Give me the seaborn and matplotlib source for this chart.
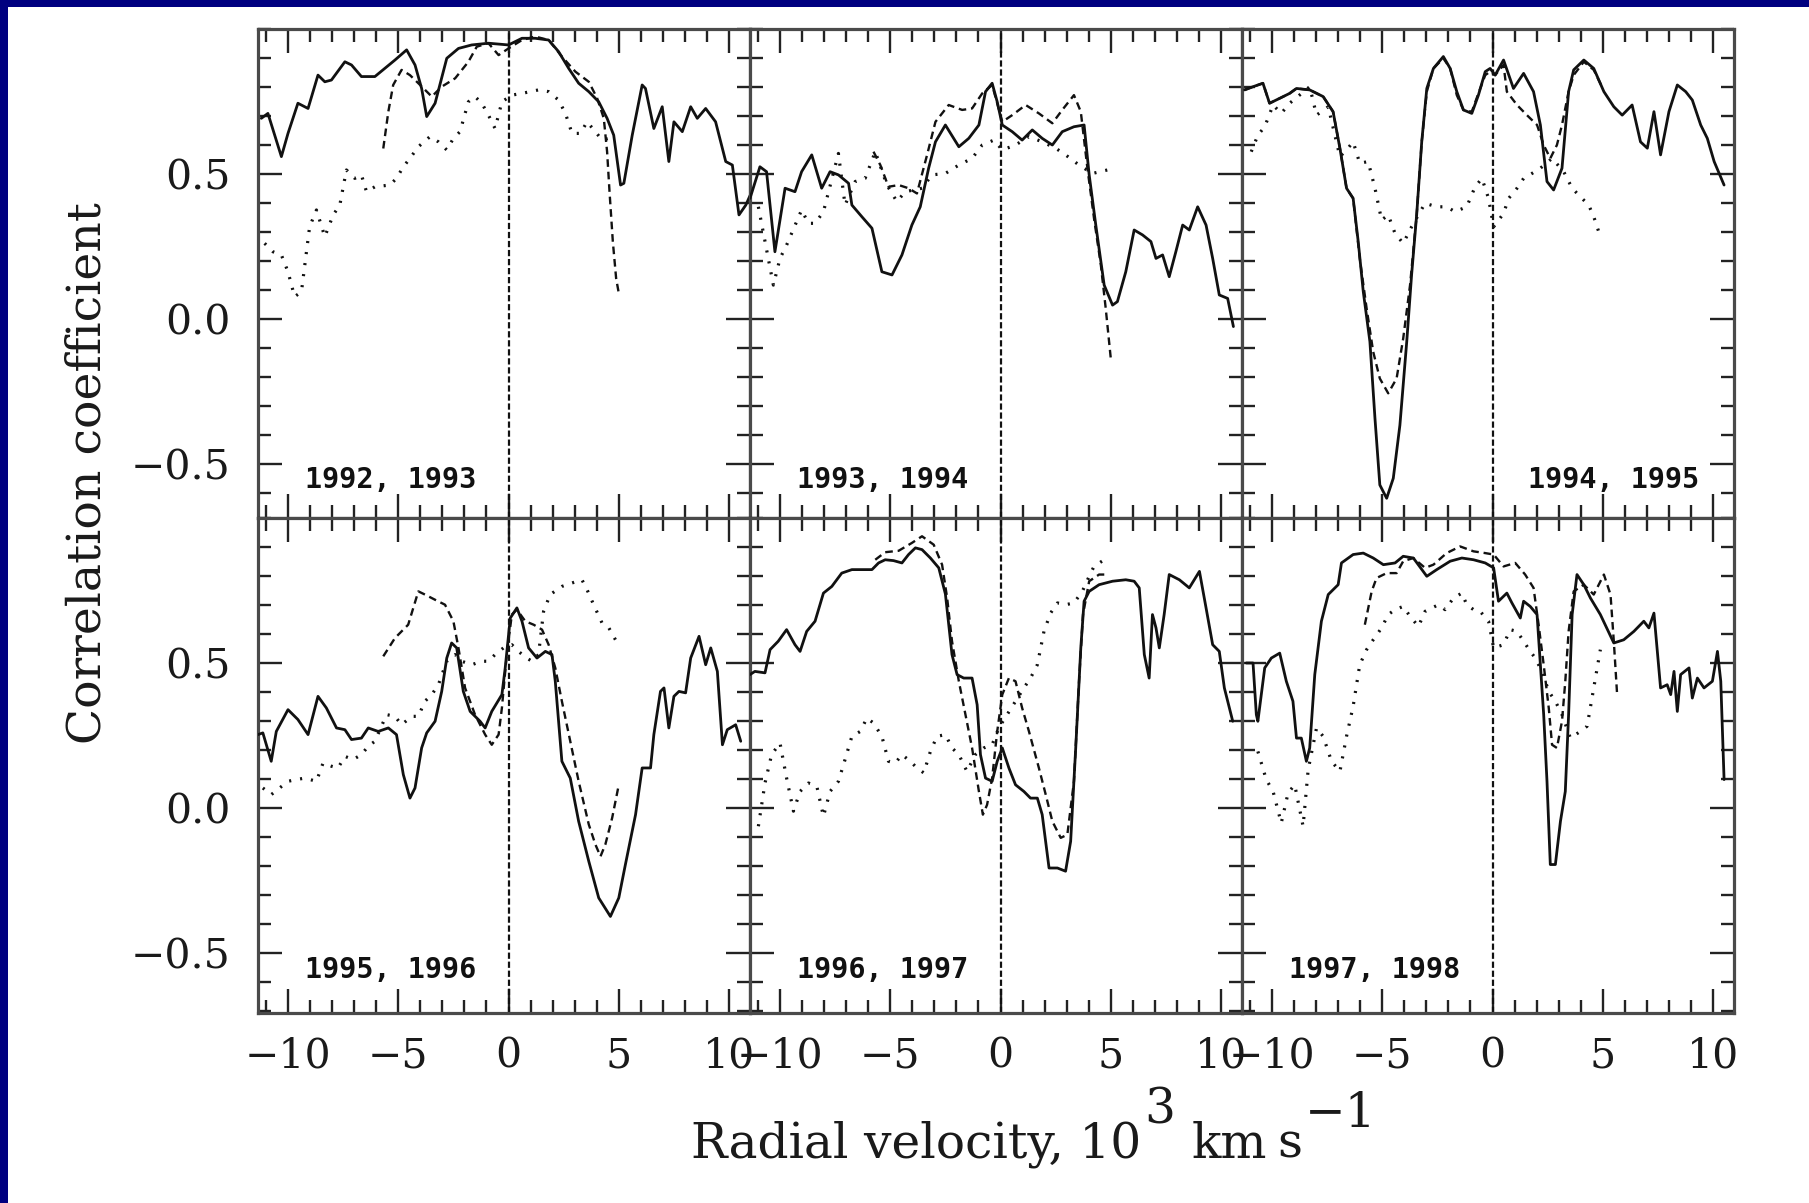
import matplotlib
matplotlib.use("Agg")
import matplotlib.pyplot as plt
import seaborn as sns
from matplotlib.ticker import FixedLocator, MultipleLocator, FuncFormatter
from matplotlib.patches import Rectangle

# ---------------- data ----------------
panel_labels = ["1992, 1993", "1993, 1994", "1994, 1995",
                "1995, 1996", "1996, 1997", "1997, 1998"]
x_ticks = [-10, -5, 0, 5, 10]
y_ticks = [-0.5, 0.0, 0.5]
x_label_parts = ["Radial velocity, 10", "3", "km", "s", "\u22121"]
y_label = "Correlation coefficient"

# panel 1 : 1992, 1993
p1_solid_x = [-11.21, -10.91, -10.30, -10.0, -9.55, -9.09, -8.64, -8.33, -8.03, -7.42, -7.12, -6.67, -6.06, -5.15, -4.62, -4.24, -3.94, -3.71, -3.33, -2.80, -2.27, -1.67, -0.91, 0.0, 0.61, 1.21, 1.82, 2.27, 2.73, 3.18, 3.64, 4.09, 4.47, 4.77, 5.08, 5.23, 5.61, 6.06, 6.21, 6.59, 6.97, 7.27, 7.50, 7.88, 8.26, 8.56, 8.94, 9.39, 9.85, 10.15, 10.45, 10.76, 11.10]
p1_solid_y = [0.692, 0.709, 0.560, 0.640, 0.744, 0.726, 0.841, 0.818, 0.824, 0.887, 0.876, 0.836, 0.836, 0.893, 0.928, 0.876, 0.795, 0.698, 0.744, 0.899, 0.933, 0.945, 0.951, 0.945, 0.968, 0.968, 0.962, 0.922, 0.864, 0.813, 0.784, 0.749, 0.692, 0.634, 0.462, 0.468, 0.634, 0.807, 0.795, 0.657, 0.732, 0.543, 0.680, 0.646, 0.732, 0.692, 0.726, 0.680, 0.543, 0.531, 0.359, 0.393, 0.451]
p1_dash_x = [-5.68, -5.45, -5.23, -4.85, -4.47, -4.09, -3.48, -3.03, -2.42, -1.82, -1.44, -0.91, -0.45, 0.0, 0.61, 1.21, 1.82, 2.42, 3.03, 3.64, 4.02, 4.32, 4.47, 4.58, 4.73, 4.88, 5.0]
p1_dash_y = [0.588, 0.715, 0.807, 0.859, 0.841, 0.813, 0.767, 0.801, 0.830, 0.887, 0.939, 0.951, 0.910, 0.933, 0.962, 0.974, 0.962, 0.905, 0.853, 0.818, 0.761, 0.692, 0.577, 0.439, 0.267, 0.140, 0.089]
p1_dot_x = [-11.06, -10.68, -10.30, -10.0, -9.70, -9.39, -9.02, -8.71, -8.33, -7.95, -7.65, -7.35, -6.97, -6.67, -6.44, -6.06, -5.38, -5.08, -4.77, -4.47, -4.09, -3.56, -3.18, -2.80, -2.50, -2.20, -1.82, -1.52, -1.21, -0.91, -0.61, -0.30, 0.15, 0.61, 1.36, 1.82, 2.27, 2.58, 2.88, 3.26, 3.56, 3.94, 4.24, 4.55]
p1_dot_y = [0.261, 0.232, 0.221, 0.163, 0.077, 0.094, 0.318, 0.376, 0.284, 0.359, 0.393, 0.514, 0.485, 0.497, 0.439, 0.456, 0.462, 0.485, 0.525, 0.554, 0.594, 0.629, 0.611, 0.583, 0.623, 0.646, 0.749, 0.767, 0.744, 0.703, 0.657, 0.749, 0.772, 0.778, 0.790, 0.784, 0.755, 0.709, 0.640, 0.640, 0.680, 0.646, 0.617, 0.623]

# panel 2 : 1993, 1994
p2_solid_x = [-11.36, -10.91, -10.61, -10.23, -9.77, -9.32, -9.02, -8.56, -8.11, -7.73, -7.35, -6.89, -6.74, -6.29, -5.83, -5.38, -4.92, -4.47, -4.02, -3.64, -3.26, -2.95, -2.50, -1.89, -1.44, -0.98, -0.68, -0.38, -0.15, 0.08, 0.53, 0.98, 1.44, 1.89, 2.35, 2.80, 3.33, 3.79, 4.02, 4.32, 4.70, 5.08, 5.30, 5.68, 6.06, 6.44, 6.82, 7.05, 7.35, 7.65, 7.95, 8.26, 8.56, 8.94, 9.32, 9.62, 9.92, 10.30, 10.56]
p2_solid_y = [0.416, 0.525, 0.508, 0.232, 0.451, 0.439, 0.508, 0.566, 0.451, 0.508, 0.497, 0.468, 0.393, 0.353, 0.313, 0.163, 0.152, 0.221, 0.324, 0.387, 0.520, 0.611, 0.669, 0.594, 0.623, 0.669, 0.784, 0.813, 0.749, 0.669, 0.646, 0.617, 0.652, 0.623, 0.600, 0.646, 0.663, 0.669, 0.497, 0.324, 0.117, 0.048, 0.060, 0.163, 0.307, 0.290, 0.267, 0.209, 0.221, 0.146, 0.232, 0.324, 0.307, 0.387, 0.324, 0.209, 0.083, 0.071, -0.026]
p2_dash_x = [-5.76, -5.45, -5.08, -4.62, -4.17, -3.79, -3.33, -2.95, -2.35, -1.74, -1.29, -0.83, -0.38, 0.08, 0.53, 1.14, 1.74, 2.35, 2.80, 3.33, 3.64, 3.94, 4.24, 4.55, 4.77, 5.0]
p2_dash_y = [0.577, 0.531, 0.456, 0.462, 0.451, 0.433, 0.566, 0.680, 0.738, 0.721, 0.726, 0.778, 0.807, 0.680, 0.703, 0.738, 0.709, 0.675, 0.721, 0.772, 0.715, 0.520, 0.347, 0.186, 0.037, -0.136]
p2_dot_x = [-10.98, -10.30, -10.0, -9.70, -9.02, -8.71, -8.41, -8.03, -7.35, -7.05, -6.59, -6.14, -5.68, -5.15, -4.70, -4.32, -3.56, -3.11, -2.50, -1.89, -1.29, -0.83, -0.30, 0.08, 0.68, 1.29, 1.89, 2.50, 2.95, 3.56, 4.17, 4.85]
p2_dot_y = [0.387, 0.117, 0.209, 0.255, 0.376, 0.330, 0.330, 0.370, 0.571, 0.393, 0.474, 0.485, 0.577, 0.462, 0.405, 0.439, 0.451, 0.497, 0.502, 0.531, 0.554, 0.600, 0.617, 0.583, 0.600, 0.629, 0.611, 0.589, 0.566, 0.531, 0.502, 0.514]

# panel 3 : 1994, 1995
p3_solid_x = [-11.24, -10.86, -10.41, -10.11, -9.65, -9.20, -8.89, -8.29, -7.68, -7.23, -6.92, -6.62, -6.32, -6.09, -5.86, -5.56, -5.33, -5.11, -4.80, -4.50, -4.20, -3.89, -3.67, -3.44, -3.21, -2.98, -2.68, -2.23, -1.92, -1.62, -1.32, -0.94, -0.64, -0.33, -0.11, 0.12, 0.50, 0.95, 1.41, 1.86, 2.17, 2.47, 2.77, 3.15, 3.45, 3.68, 4.14, 4.59, 5.05, 5.50, 5.88, 6.33, 6.71, 7.02, 7.32, 7.62, 8.00, 8.38, 8.76, 9.06, 9.44, 9.74, 10.05, 10.50]
p3_solid_y = [0.790, 0.801, 0.813, 0.744, 0.761, 0.778, 0.795, 0.790, 0.767, 0.715, 0.589, 0.451, 0.416, 0.267, 0.094, -0.078, -0.343, -0.572, -0.618, -0.549, -0.366, -0.078, 0.152, 0.359, 0.611, 0.795, 0.864, 0.905, 0.864, 0.784, 0.721, 0.709, 0.772, 0.853, 0.864, 0.841, 0.893, 0.795, 0.847, 0.784, 0.669, 0.474, 0.445, 0.520, 0.784, 0.859, 0.893, 0.864, 0.784, 0.732, 0.703, 0.738, 0.611, 0.589, 0.715, 0.566, 0.715, 0.807, 0.784, 0.755, 0.669, 0.623, 0.543, 0.462]
p3_dash_x = [-11.24, -10.86, -10.41, -10.11, -9.65, -9.20, -8.89, -8.29, -7.68, -7.23, -6.92, -6.62, -6.32, -6.02, -5.71, -5.41, -5.11, -4.73, -4.35, -4.05, -3.74, -3.44, -3.21, -2.98, -2.68, -2.23, -1.92, -1.62, -1.32, -0.94, -0.64, -0.33, -0.11, 0.12, 0.50, 0.65, 1.11, 1.56, 2.02, 2.32, 2.62, 2.92, 3.15, 3.45, 3.68, 4.14, 4.59, 5.0]
p3_dash_y = [0.790, 0.801, 0.813, 0.744, 0.761, 0.778, 0.795, 0.790, 0.767, 0.715, 0.589, 0.451, 0.416, 0.209, 0.037, -0.113, -0.205, -0.256, -0.205, -0.067, 0.117, 0.359, 0.611, 0.784, 0.864, 0.899, 0.864, 0.772, 0.721, 0.715, 0.778, 0.841, 0.853, 0.841, 0.876, 0.784, 0.738, 0.703, 0.669, 0.600, 0.554, 0.600, 0.669, 0.784, 0.841, 0.887, 0.859, 0.795]
p3_dot_x = [-10.94, -10.64, -10.33, -9.95, -9.58, -9.20, -8.29, -7.98, -7.45, -6.92, -6.62, -6.32, -6.02, -5.64, -5.33, -5.03, -4.73, -4.42, -4.05, -3.67, -3.06, -2.53, -2.08, -1.70, -1.17, -0.79, -0.48, -0.18, 0.05, 0.50, 0.73, 1.11, 1.41, 1.79, 2.17, 2.70, 3.23, 3.61, 3.98, 4.36, 4.59, 4.89]
p3_dot_y = [0.577, 0.634, 0.663, 0.738, 0.709, 0.744, 0.801, 0.703, 0.732, 0.560, 0.583, 0.611, 0.537, 0.543, 0.451, 0.341, 0.359, 0.295, 0.261, 0.318, 0.399, 0.387, 0.387, 0.370, 0.387, 0.456, 0.485, 0.416, 0.318, 0.364, 0.416, 0.451, 0.485, 0.502, 0.520, 0.554, 0.508, 0.451, 0.422, 0.393, 0.353, 0.284]

# panel 4 : 1995, 1996
p4_solid_x = [-11.36, -11.14, -10.76, -10.53, -10.0, -9.55, -9.09, -8.64, -8.26, -7.80, -7.42, -7.12, -6.67, -6.36, -5.91, -5.45, -5.08, -4.77, -4.47, -4.24, -3.94, -3.71, -3.33, -3.03, -2.80, -2.58, -2.35, -2.05, -1.74, -1.29, -1.06, -0.76, -0.30, -0.15, 0.08, 0.38, 0.61, 0.91, 1.29, 1.67, 1.97, 2.12, 2.27, 2.42, 2.80, 3.18, 3.64, 4.09, 4.62, 5.0, 5.30, 5.76, 6.06, 6.44, 6.59, 6.89, 7.05, 7.27, 7.5, 7.73, 8.03, 8.26, 8.64, 8.94, 9.17, 9.47, 9.70, 9.92, 10.30, 10.53]
p4_solid_y = [0.253, 0.259, 0.161, 0.264, 0.339, 0.305, 0.253, 0.385, 0.345, 0.276, 0.270, 0.236, 0.241, 0.276, 0.264, 0.276, 0.253, 0.115, 0.034, 0.069, 0.207, 0.259, 0.299, 0.402, 0.517, 0.569, 0.552, 0.402, 0.333, 0.299, 0.276, 0.333, 0.391, 0.483, 0.655, 0.690, 0.644, 0.552, 0.517, 0.540, 0.529, 0.437, 0.299, 0.161, 0.103, -0.046, -0.184, -0.310, -0.374, -0.310, -0.195, -0.023, 0.138, 0.138, 0.253, 0.402, 0.414, 0.276, 0.385, 0.402, 0.397, 0.517, 0.592, 0.494, 0.552, 0.471, 0.218, 0.270, 0.287, 0.230]
p4_dash_x = [-5.68, -5.15, -4.55, -4.09, -3.79, -3.33, -2.88, -2.50, -2.27, -1.97, -1.52, -1.06, -0.76, -0.45, -0.30, -0.08, 0.15, 0.38, 0.76, 1.14, 1.52, 1.82, 2.12, 2.42, 2.80, 3.18, 3.64, 3.94, 4.17, 4.39, 4.70, 5.0]
p4_dash_y = [0.523, 0.586, 0.632, 0.747, 0.736, 0.718, 0.701, 0.644, 0.552, 0.414, 0.322, 0.253, 0.218, 0.253, 0.345, 0.529, 0.667, 0.684, 0.644, 0.632, 0.615, 0.563, 0.483, 0.368, 0.230, 0.092, -0.057, -0.126, -0.167, -0.126, -0.034, 0.080]
p4_dot_x = [-11.14, -10.76, -10.38, -10.0, -9.62, -9.24, -8.71, -8.41, -8.03, -7.73, -7.42, -7.05, -6.67, -6.36, -6.06, -5.53, -5.15, -4.85, -4.39, -4.09, -3.79, -3.48, -3.18, -2.80, -2.42, -2.12, -1.67, -1.21, -0.91, -0.61, -0.23, 0.15, 0.45, 0.83, 1.06, 1.36, 1.59, 1.89, 2.42, 2.88, 3.33, 3.56, 3.86, 4.24, 4.55, 4.85]
p4_dot_y = [0.069, 0.046, 0.069, 0.092, 0.098, 0.103, 0.092, 0.155, 0.144, 0.138, 0.178, 0.167, 0.184, 0.213, 0.230, 0.322, 0.316, 0.287, 0.316, 0.316, 0.368, 0.391, 0.425, 0.506, 0.529, 0.506, 0.494, 0.506, 0.506, 0.529, 0.552, 0.563, 0.540, 0.517, 0.506, 0.529, 0.678, 0.736, 0.764, 0.776, 0.787, 0.753, 0.701, 0.638, 0.621, 0.580]

# panel 5 : 1996, 1997
p5_solid_x = [-11.36, -11.14, -10.68, -10.45, -10.08, -9.70, -9.32, -9.09, -8.79, -8.41, -8.03, -7.65, -7.20, -6.74, -6.29, -5.83, -5.53, -5.23, -4.85, -4.47, -4.17, -3.86, -3.56, -3.18, -2.80, -2.50, -2.20, -1.97, -1.67, -1.29, -1.06, -0.91, -0.68, -0.38, -0.15, 0.08, 0.38, 0.68, 1.06, 1.36, 1.67, 1.89, 2.20, 2.58, 2.95, 3.18, 3.41, 3.64, 3.79, 4.02, 4.47, 5.08, 5.68, 6.06, 6.29, 6.52, 6.74, 6.89, 7.05, 7.20, 7.42, 7.65, 8.11, 8.56, 9.02, 9.32, 9.62, 9.92, 10.15, 10.53]
p5_solid_y = [0.460, 0.471, 0.466, 0.546, 0.575, 0.615, 0.563, 0.540, 0.609, 0.644, 0.741, 0.764, 0.810, 0.822, 0.822, 0.822, 0.845, 0.856, 0.853, 0.845, 0.874, 0.897, 0.891, 0.862, 0.828, 0.738, 0.529, 0.460, 0.448, 0.448, 0.356, 0.184, 0.103, 0.092, 0.161, 0.207, 0.138, 0.080, 0.057, 0.034, 0.034, -0.023, -0.207, -0.207, -0.218, -0.115, 0.207, 0.552, 0.713, 0.747, 0.770, 0.782, 0.787, 0.782, 0.759, 0.529, 0.448, 0.667, 0.621, 0.552, 0.667, 0.805, 0.787, 0.759, 0.816, 0.690, 0.563, 0.540, 0.414, 0.299]
p5_dash_x = [-5.68, -5.23, -4.62, -4.02, -3.56, -3.03, -2.65, -2.42, -2.20, -1.89, -1.59, -1.29, -0.98, -0.80, -0.61, -0.38, -0.15, 0.08, 0.38, 0.68, 0.98, 1.29, 1.74, 2.05, 2.35, 2.73, 3.03, 3.33, 3.56, 3.74, 4.02, 4.47, 4.92]
p5_dash_y = [0.856, 0.882, 0.887, 0.914, 0.937, 0.908, 0.839, 0.724, 0.575, 0.437, 0.322, 0.207, 0.057, -0.023, 0.011, 0.103, 0.264, 0.391, 0.448, 0.437, 0.345, 0.264, 0.138, 0.046, -0.046, -0.103, -0.092, 0.092, 0.437, 0.667, 0.782, 0.805, 0.805]
p5_dot_x = [-10.98, -10.68, -10.38, -10.0, -9.70, -9.39, -9.09, -8.71, -8.33, -8.03, -7.73, -7.35, -7.05, -6.74, -6.36, -6.06, -5.76, -5.38, -5.08, -4.77, -4.47, -4.09, -3.79, -3.48, -3.18, -2.88, -2.50, -2.20, -1.89, -1.52, -1.14, -0.76, -0.38, -0.08, 0.30, 0.68, 1.06, 1.36, 1.67, 1.97, 2.27, 2.58, 2.95, 3.33, 3.71, 4.02, 4.24, 4.70]
p5_dot_y = [-0.063, 0.086, 0.184, 0.224, 0.103, -0.011, 0.057, 0.086, 0.075, -0.029, 0.057, 0.092, 0.167, 0.247, 0.264, 0.310, 0.293, 0.247, 0.161, 0.155, 0.184, 0.161, 0.138, 0.121, 0.195, 0.247, 0.253, 0.207, 0.184, 0.126, 0.184, 0.207, 0.218, 0.276, 0.322, 0.368, 0.414, 0.448, 0.494, 0.609, 0.672, 0.707, 0.701, 0.707, 0.747, 0.799, 0.833, 0.856]

# panel 6 : 1997, 1998
p6_solid_x = [-11.17, -10.86, -10.71, -10.64, -10.33, -10.03, -9.65, -9.35, -9.05, -8.89, -8.67, -8.44, -8.29, -8.06, -7.76, -7.45, -7.00, -6.85, -6.32, -5.86, -5.41, -4.95, -4.42, -4.05, -3.59, -2.98, -2.53, -1.92, -1.39, -0.86, -0.33, 0.05, 0.27, 0.65, 0.88, 1.26, 1.41, 1.71, 2.02, 2.17, 2.32, 2.47, 2.62, 2.85, 3.08, 3.30, 3.45, 3.61, 3.83, 4.14, 4.44, 4.89, 5.50, 5.95, 6.41, 6.86, 7.09, 7.32, 7.62, 7.92, 8.08, 8.23, 8.38, 8.53, 8.91, 9.06, 9.29, 9.59, 9.97, 10.20, 10.35, 10.5]
p6_solid_y = [0.5, 0.5, 0.322, 0.299, 0.483, 0.517, 0.534, 0.437, 0.368, 0.241, 0.241, 0.161, 0.207, 0.460, 0.644, 0.736, 0.770, 0.845, 0.874, 0.879, 0.862, 0.839, 0.845, 0.868, 0.862, 0.799, 0.822, 0.851, 0.862, 0.856, 0.845, 0.828, 0.713, 0.741, 0.707, 0.655, 0.713, 0.695, 0.667, 0.494, 0.322, 0.092, -0.195, -0.195, -0.046, 0.057, 0.322, 0.667, 0.805, 0.770, 0.724, 0.667, 0.569, 0.580, 0.609, 0.644, 0.621, 0.672, 0.414, 0.425, 0.391, 0.471, 0.333, 0.460, 0.483, 0.379, 0.448, 0.414, 0.437, 0.540, 0.437, 0.098]
p6_dash_x = [-5.79, -5.48, -5.26, -4.80, -4.35, -4.05, -3.59, -3.06, -2.68, -2.08, -1.47, -0.86, -0.33, 0.05, 0.50, 1.03, 1.48, 1.86, 2.09, 2.32, 2.55, 2.70, 2.92, 3.15, 3.30, 3.45, 3.68, 4.14, 4.59, 5.05, 5.35, 5.50, 5.65]
p6_dash_y = [0.632, 0.747, 0.793, 0.810, 0.810, 0.851, 0.862, 0.828, 0.839, 0.879, 0.902, 0.885, 0.879, 0.874, 0.833, 0.845, 0.805, 0.759, 0.632, 0.494, 0.345, 0.218, 0.207, 0.299, 0.437, 0.609, 0.747, 0.770, 0.736, 0.805, 0.736, 0.575, 0.391]
p6_dot_x = [-10.64, -10.26, -9.95, -9.58, -9.27, -8.97, -8.59, -8.36, -7.98, -7.68, -7.30, -6.92, -6.62, -6.32, -6.02, -5.71, -5.41, -5.03, -4.73, -4.42, -4.05, -3.74, -3.36, -3.06, -2.45, -2.15, -1.77, -1.39, -1.17, -0.86, -0.56, -0.18, 0.05, 0.50, 0.80, 1.11, 1.41, 1.71, 1.94, 2.24, 2.55, 2.85, 3.15, 3.53, 3.98, 4.29, 4.59, 4.89]
p6_dot_y = [0.195, 0.098, 0.057, -0.052, 0.052, 0.080, -0.063, 0.132, 0.276, 0.247, 0.161, 0.126, 0.247, 0.351, 0.494, 0.546, 0.580, 0.621, 0.667, 0.684, 0.695, 0.661, 0.626, 0.678, 0.701, 0.684, 0.724, 0.741, 0.701, 0.684, 0.678, 0.644, 0.552, 0.563, 0.615, 0.609, 0.575, 0.540, 0.517, 0.471, 0.402, 0.368, 0.322, 0.241, 0.264, 0.282, 0.414, 0.546]

panels = [
    (p1_solid_x, p1_solid_y, p1_dash_x, p1_dash_y, p1_dot_x, p1_dot_y),
    (p2_solid_x, p2_solid_y, p2_dash_x, p2_dash_y, p2_dot_x, p2_dot_y),
    (p3_solid_x, p3_solid_y, p3_dash_x, p3_dash_y, p3_dot_x, p3_dot_y),
    (p4_solid_x, p4_solid_y, p4_dash_x, p4_dash_y, p4_dot_x, p4_dot_y),
    (p5_solid_x, p5_solid_y, p5_dash_x, p5_dash_y, p5_dot_x, p5_dot_y),
    (p6_solid_x, p6_solid_y, p6_dash_x, p6_dash_y, p6_dot_x, p6_dot_y),
]

# ---------------- style ----------------
sns.set_theme(style="ticks")
plt.rcParams["font.family"] = ["DejaVu Serif", "DejaVu Sans"]
plt.rcParams["lines.scale_dashes"] = False
plt.rcParams["axes.unicode_minus"] = True

W, H = 1809, 1203
fig = plt.figure(figsize=(W / 100, H / 100), dpi=100)
fig.patch.set_facecolor("white")

col_left = [258, 750, 1242]
col_w = 492
row_top = [29, 518]
row_h = [489, 495]
row_ylim = [(-0.686, 1.0), (-0.707, 1.0)]
xlim = (-11.36, 10.95)

LINE = "#111111"
SPINE = "#4a4a4a"
TXT = "#1a1a1a"
TICK_FS = 29.5

fmt_y = FuncFormatter(lambda v, p: f"{v:.1f}".replace("-", "\u2212"))
fmt_x = FuncFormatter(lambda v, p: f"{v:.0f}".replace("-", "\u2212"))

for i, data in enumerate(panels):
    r, c = divmod(i, 3)
    left = col_left[c] / W
    bottom = 1 - (row_top[r] + row_h[r]) / H
    ax = fig.add_axes([left, bottom, col_w / W, row_h[r] / H])
    ax.set_facecolor("white")
    sx, sy, dx, dy, ox, oy = data

    ax.axvline(0, color=LINE, lw=1.6, linestyle=(0, (4.5, 2.0)), zorder=1)
    sns.lineplot(x=sx, y=sy, ax=ax, color=LINE, lw=2.0, sort=False,
                 estimator=None, zorder=3)
    sns.lineplot(x=dx, y=dy, ax=ax, color=LINE, lw=1.7, sort=False,
                 estimator=None, linestyle=(0, (5.5, 3.5)), zorder=3)
    sns.lineplot(x=ox, y=oy, ax=ax, color=LINE, lw=2.3, sort=False,
                 estimator=None, linestyle=(0, (1.5, 6.5)), zorder=3)

    ax.set_xlim(*xlim)
    ax.set_ylim(*row_ylim[r])
    ax.set_xlabel("")
    ax.set_ylabel("")

    ax.xaxis.set_major_locator(FixedLocator(x_ticks))
    ax.xaxis.set_minor_locator(MultipleLocator(1))
    ax.yaxis.set_major_locator(FixedLocator(y_ticks))
    ax.yaxis.set_minor_locator(MultipleLocator(0.1))
    ax.xaxis.set_major_formatter(fmt_x)
    ax.yaxis.set_major_formatter(fmt_y)

    ax.tick_params(which="both", direction="in", top=True, bottom=True,
                   left=True, right=True, color="#222222", width=1.7)
    ax.tick_params(which="major", length=17)
    ax.tick_params(which="minor", length=9.5)
    ax.tick_params(axis="x", labelbottom=(r == 1), labeltop=False,
                   labelsize=TICK_FS, pad=17, labelcolor=TXT)
    ax.tick_params(axis="y", labelleft=(c == 0), labelright=False,
                   labelsize=TICK_FS, pad=20, labelcolor=TXT)
    for s in ax.spines.values():
        s.set_color(SPINE)
        s.set_linewidth(2.3)
        s.set_visible(True)

    lab_y = -0.583 if r == 0 else -0.586
    if i == 2:
        ax.text(9.36, lab_y, panel_labels[i], ha="right", va="baseline",
                fontsize=20.5, fontweight="bold", family="DejaVu Sans Mono",
                color="#111111", zorder=5)
    else:
        ax.text(-9.23, lab_y, panel_labels[i], ha="left", va="baseline",
                fontsize=20.5, fontweight="bold", family="DejaVu Sans Mono",
                color="#111111", zorder=5)

# y label
fig.text(88 / W, 1 - 473 / H, y_label, rotation=90, ha="center", va="center",
         fontsize=34, family="DejaVu Serif", color=TXT)

# x label with full-size raised exponents
renderer = fig.canvas.get_renderer()
base = 1158
XL_FS = 35
x_pos = 691
gaps = [3, 16, 10, 3]          # pixel gap before each following part
raises = [0, 35, 0, 0, 31]     # baseline lift of each part
for k, part in enumerate(x_label_parts):
    t = fig.text(x_pos / W, 1 - (base - raises[k]) / H, part, ha="left",
                 va="baseline", fontsize=XL_FS, family="DejaVu Serif", color=TXT)
    if k < len(gaps):
        bb = t.get_window_extent(renderer)
        x_pos = bb.x1 + gaps[k]

# navy slide border (top and left)
fig.add_artist(Rectangle((0, 1 - 7 / H), 1, 7 / H, transform=fig.transFigure,
                         facecolor="#000080", edgecolor="none", zorder=20))
fig.add_artist(Rectangle((0, 0), 8 / W, 1, transform=fig.transFigure,
                         facecolor="#000080", edgecolor="none", zorder=20))

fig.savefig("out.png", dpi=100, facecolor="white")
